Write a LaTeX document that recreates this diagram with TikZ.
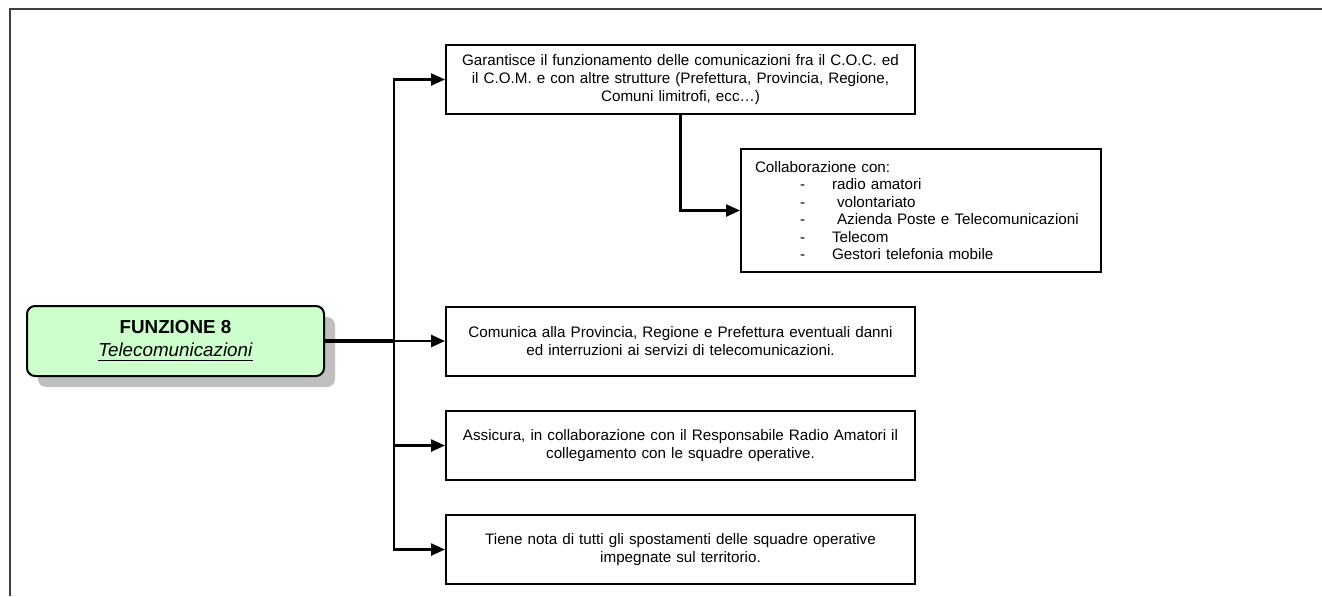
\documentclass[tikz,border=0pt]{standalone}
\usepackage{fontspec}
\setmainfont{Liberation Sans}
\usetikzlibrary{arrows.meta,shadows}
\definecolor{verdefunz}{RGB}{204,255,204}
\newcommand{\voce}[1]{\makebox[38.5pt][l]{\hspace*{22.5pt}-}#1}
\tikzset{
  cornice/.style={draw=black!75, line width=1.1pt},
  funzione/.style={draw, line width=1pt, rounded corners=4pt, fill=verdefunz,
    minimum width=148.5pt, minimum height=35pt, align=center,
    font=\fontsize{9.4}{11.5}\selectfont,
    drop shadow={shadow xshift=5.5pt, shadow yshift=-5.5pt, fill=black!25, opacity=1}},
  compito/.style={draw, line width=1pt, text width=226pt, inner xsep=4.25pt,
    minimum height=34.5pt, align=center, font=\fontsize{7.6}{9}\selectfont},
  elenco/.style={draw, line width=1pt, text width=166pt, inner xsep=7pt,
    minimum height=61.5pt, align=left, font=\fontsize{7.6}{8.75}\selectfont},
  freccia/.style={-{Triangle[length=7pt,width=6pt]}, line width=1.2pt}
}
\begin{document}
\begin{tikzpicture}[x=0.5pt,y=-0.5pt]
  \useasboundingbox (0,0) rectangle (1322,596);
  \draw[cornice] (10,596) -- (10,9) -- (1322,9);
  \node[funzione] (f8) at (175.5,341)
    {\textbf{FUNZIONE 8}\\\underline{\textit{Telecomunicazioni}}};
  \node[compito] (c1) at (680.5,79.5)
    {Garantisce il funzionamento delle comunicazioni fra il C.O.C. ed\\
     il C.O.M. e con altre strutture (Prefettura, Provincia, Regione,\\
     Comuni limitrofi, ecc\ldots)};
  \node[elenco] (coll) at (921,210.5)
    {Collaborazione con:\\
     \voce{radio amatori}\\
     \voce{\ volontariato}\\
     \voce{\ Azienda Poste e Telecomunicazioni}\\
     \voce{Telecom}\\
     \voce{Gestori telefonia mobile}};
  \node[compito] (c2) at (680.5,341)
    {Comunica alla Provincia, Regione e Prefettura eventuali danni\\
     ed interruzioni ai servizi di telecomunicazioni.};
  \node[compito] (c3) at (680.5,445.5)
    {Assicura, in collaborazione con il Responsabile Radio Amatori il\\
     collegamento con le squadre operative.};
  \node[compito] (c4) at (680.5,549.5)
    {Tiene nota di tutti gli spostamenti delle squadre operative\\
     impegnate sul territorio.};
  \coordinate (bus) at (394,341);
  \draw[line width=1.8pt] (f8) -- (bus);
  \begin{scope}[freccia]
    \draw (bus) |- (c1);
    \draw (bus) -- (c2);
    \draw (bus) |- (c3);
    \draw (bus) |- (c4);
    \draw (c1) |- (coll);
  \end{scope}
\end{tikzpicture}
\end{document}
